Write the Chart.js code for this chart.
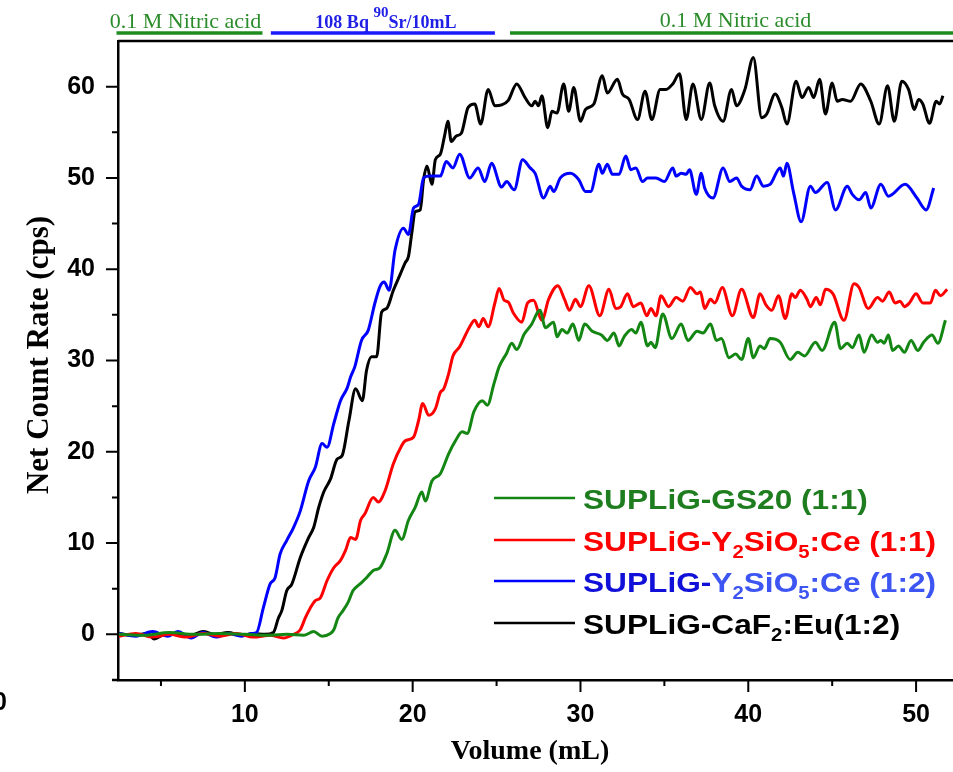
<!DOCTYPE html>
<html>
<head>
<meta charset="utf-8">
<script src="https://cdn.jsdelivr.net/npm/chart.js@4.4.0/dist/chart.umd.min.js"></script>
<style>
  body { margin: 0; background: #fff; }
  canvas { display: block; }
</style>
</head>
<body>
<canvas id="myChart" width="953" height="772"></canvas>
<script>
// ---- data (Volume mL / count rate cps) ----
const gs20X = [2.5, 4, 5.5, 7, 8.5, 10, 11.5, 12.5, 13.5, 14.1, 14.6, 15.1, 15.3, 15.55, 15.85, 16.15, 16.45, 16.85, 17.25, 17.65, 18.05, 18.45, 18.95, 19.35, 19.75, 20.15, 20.55, 20.75, 21.15, 21.65, 22.15, 22.55, 22.95, 23.25, 23.65, 24.15, 24.45, 24.85, 25.15, 25.6, 25.9, 26.2, 26.65, 27.1, 27.45, 27.6, 27.9, 28.4, 28.6, 28.9, 29.2, 29.55, 29.9, 30.25, 30.7, 31.25, 31.6, 32.0, 32.3, 32.6, 33.05, 33.3, 33.6, 34.0, 34.2, 34.45, 34.9, 35.45, 36.0, 36.4, 36.95, 37.3, 37.75, 38.1, 38.4, 38.85, 39.25, 39.6, 40.0, 40.3, 40.7, 40.95, 41.3, 41.9, 42.5, 42.95, 43.35, 44.0, 44.4, 45.15, 45.5, 45.9, 46.2, 46.6, 46.9, 47.35, 47.7, 47.9, 48.1, 48.35, 48.6, 48.95, 49.3, 49.7, 50.1, 50.45, 50.95, 51.3, 51.75];
const gs20Y = [0, -0.1, 0.2, 0, 0.1, 0, -0.1, 0, -0.1, 0.3, -0.2, 0.1, 0.5, 1.8, 2.6, 3.5, 4.8, 5.5, 6.2, 7.0, 7.3, 8.8, 11.4, 10.4, 12.5, 13.9, 15.6, 14.6, 16.8, 17.6, 19.8, 21.2, 22.2, 22.0, 24.4, 25.6, 25.1, 27.5, 29.3, 30.8, 31.9, 31.2, 32.9, 34.0, 35.3, 35.5, 33.6, 34.2, 32.6, 33.4, 33.0, 34.0, 32.2, 34.0, 33.2, 32.8, 32.2, 33.0, 31.6, 32.6, 33.4, 33.0, 34.2, 31.6, 32.0, 31.4, 35.1, 32.4, 34.0, 32.2, 33.2, 33.0, 34.0, 32.2, 32.4, 30.3, 30.7, 30.1, 32.4, 30.3, 31.6, 31.3, 32.4, 32.0, 30.1, 30.9, 30.5, 32.0, 31.1, 34.2, 31.3, 31.9, 31.4, 32.8, 30.9, 32.8, 32.0, 32.2, 31.9, 32.8, 31.1, 31.6, 30.9, 32.2, 31.1, 32.0, 32.8, 31.9, 34.4];

const ysoRedX = [2.5, 3.5, 4.5, 5.5, 6.5, 7.5, 8.5, 9.5, 10.5, 11.5, 12.3, 12.9, 13.3, 13.6, 13.9, 14.2, 14.5, 14.9, 15.3, 15.7, 16.0, 16.3, 16.6, 16.9, 17.15, 17.65, 17.95, 18.35, 18.85, 19.35, 19.55, 20.05, 20.35, 20.6, 20.95, 21.35, 21.65, 21.85, 22.15, 22.4, 22.8, 23.4, 23.7, 23.95, 24.2, 24.5, 24.9, 25.15, 25.45, 25.7, 26.0, 26.5, 26.85, 27.2, 27.7, 28.1, 28.65, 29.05, 29.35, 29.7, 30.0, 30.5, 31.15, 31.7, 32.1, 32.4, 32.8, 33.15, 33.6, 33.95, 34.2, 34.5, 34.8, 35.25, 35.7, 36.1, 36.55, 36.95, 37.15, 37.4, 37.75, 38.0, 38.45, 39.05, 39.6, 40.3, 40.7, 41.05, 41.4, 41.8, 42.2, 42.6, 42.8, 43.1, 43.5, 43.7, 44.05, 44.3, 44.6, 45.05, 45.7, 46.3, 46.6, 47.15, 47.7, 48.0, 48.4, 48.75, 49.05, 49.3, 49.6, 50.0, 50.4, 50.85, 51.15, 51.45, 51.85];
const ysoRedY = [-0.2, 0.1, -0.3, 0, -0.3, 0.1, -0.2, 0.1, -0.3, -0.1, -0.4, 0, 0.5, 1.8, 2.9, 3.7, 4.0, 5.9, 7.3, 8.1, 9.2, 10.6, 10.4, 12.5, 13.2, 15.0, 14.5, 15.7, 18.7, 20.7, 21.2, 21.6, 23.4, 25.3, 24.0, 24.7, 26.5, 26.9, 28.6, 30.5, 31.5, 33.7, 34.4, 33.7, 34.6, 33.7, 36.3, 37.9, 36.6, 36.4, 35.2, 34.2, 36.3, 36.6, 34.4, 36.7, 38.2, 36.7, 35.5, 36.7, 35.9, 38.2, 34.9, 37.8, 35.7, 35.9, 37.3, 35.9, 36.3, 34.9, 35.7, 34.9, 37.1, 35.9, 36.9, 36.5, 38.0, 37.3, 37.5, 35.7, 36.7, 36.3, 38.0, 34.9, 37.8, 34.7, 37.3, 36.1, 35.5, 37.1, 34.6, 37.3, 36.9, 37.7, 36.7, 35.9, 36.9, 36.1, 37.8, 37.3, 34.4, 38.4, 38.0, 35.7, 36.9, 36.5, 37.5, 36.3, 36.5, 35.9, 36.3, 37.3, 36.3, 36.3, 37.7, 37.1, 37.8];

const ysoBlueX = [2.5, 3.5, 4.5, 5.4, 6.0, 6.8, 7.5, 8.3, 9.0, 9.8, 10.4, 10.7, 11.1, 11.5, 11.8, 12.1, 12.5, 12.9, 13.3, 13.8, 14.2, 14.6, 14.9, 15.3, 15.7, 16.1, 16.3, 16.55, 16.95, 17.35, 17.75, 18.05, 18.3, 18.6, 18.95, 19.45, 19.75, 20.05, 20.35, 20.65, 21.05, 21.65, 22.0, 22.4, 22.8, 23.4, 23.9, 24.3, 24.7, 25.3, 25.6, 26.05, 26.55, 27.0, 27.3, 27.8, 28.2, 28.4, 28.8, 29.4, 29.9, 30.3, 30.6, 31.1, 31.3, 31.6, 31.9, 32.3, 32.7, 33.0, 33.3, 33.7, 34.0, 34.5, 35.0, 35.5, 35.7, 36.0, 36.3, 36.5, 36.9, 37.2, 37.4, 37.9, 38.5, 38.9, 39.3, 39.6, 40.1, 40.5, 40.9, 41.3, 41.9, 42.1, 42.3, 42.7, 43.15, 43.7, 44.0, 44.7, 45.2, 45.9, 46.2, 46.6, 47.0, 47.3, 47.9, 48.35, 49.35, 50.05, 50.6, 51.05];
const ysoBlueY = [0.1, -0.2, 0.3, -0.2, 0.3, -0.4, 0.2, -0.3, 0.1, -0.2, 0.1, 0.2, 2.9, 5.5, 6.2, 8.8, 10.3, 11.7, 13.5, 16.8, 18.3, 20.9, 20.5, 23.1, 25.6, 27.0, 28.2, 29.3, 32.2, 33.3, 36.3, 38.1, 38.6, 37.7, 42.1, 44.5, 43.8, 46.7, 47.1, 50.0, 50.2, 50.2, 51.8, 51.1, 52.6, 50.0, 51.1, 49.6, 51.6, 49.0, 49.6, 48.7, 52.0, 51.1, 50.5, 47.8, 49.1, 48.5, 50.0, 50.5, 49.8, 48.5, 48.5, 51.5, 50.5, 51.5, 50.4, 50.4, 52.4, 50.9, 51.1, 49.6, 50.0, 50.0, 49.6, 51.1, 50.2, 50.5, 50.4, 50.9, 48.2, 50.5, 48.9, 47.8, 51.1, 49.6, 50.0, 49.1, 48.7, 50.2, 49.1, 49.3, 51.1, 50.2, 51.6, 48.4, 45.2, 49.1, 48.4, 49.5, 46.5, 49.1, 48.2, 47.6, 48.4, 46.7, 49.3, 48.0, 49.3, 47.8, 46.5, 48.9];

const cafX = [2.5, 3.3, 4.2, 4.6, 5.2, 6.0, 6.8, 7.5, 8.2, 9.0, 9.8, 10.5, 11.2, 11.7, 12.0, 12.2, 12.5, 12.8, 13.3, 13.8, 14.1, 14.4, 14.7, 15.1, 15.5, 15.8, 16.2, 16.6, 17.0, 17.25, 17.55, 17.85, 18.15, 18.45, 18.85, 19.25, 19.55, 19.75, 19.95, 20.15, 20.45, 20.65, 20.85, 21.15, 21.35, 21.65, 21.9, 22.1, 22.3, 22.6, 22.9, 23.3, 23.7, 24.05, 24.5, 24.9, 25.3, 25.7, 26.2, 26.7, 27.1, 27.3, 27.5, 27.7, 28.05, 28.3, 28.6, 29.0, 29.3, 29.6, 30.0, 30.3, 30.8, 31.3, 31.6, 32.2, 32.5, 32.9, 33.4, 33.85, 34.25, 34.75, 35.1, 35.5, 35.9, 36.3, 36.7, 37.2, 37.7, 38.0, 38.5, 39.0, 39.3, 39.8, 40.3, 40.8, 41.1, 41.6, 42.0, 42.3, 42.85, 43.2, 43.6, 43.9, 44.25, 44.6, 45.0, 45.3, 45.6, 46.1, 46.7, 47.3, 47.8, 48.3, 48.7, 49.15, 49.55, 49.9, 50.15, 50.4, 50.8, 51.2, 51.4, 51.6];
const cafY = [0.1, -0.1, 0.1, -0.5, 0, 0.1, -0.1, 0.3, 0, 0.2, -0.1, 0.1, 0, 0.2, 1.8, 2.6, 4.8, 5.5, 8.4, 10.6, 11.7, 13.9, 15.6, 17.0, 19.2, 19.6, 23.4, 26.9, 25.6, 28.9, 30.4, 30.4, 35.3, 35.7, 37.7, 39.4, 40.7, 41.4, 44.0, 46.3, 46.5, 49.8, 51.3, 49.3, 52.0, 52.6, 54.6, 56.2, 54.0, 54.6, 54.9, 57.7, 58.1, 55.9, 59.7, 57.9, 58.0, 58.5, 60.3, 58.8, 57.9, 58.4, 57.9, 59.0, 55.5, 57.3, 57.1, 60.3, 57.3, 59.9, 56.2, 57.5, 58.1, 61.2, 59.3, 60.8, 59.2, 58.6, 56.4, 59.5, 56.4, 59.7, 59.7, 60.3, 61.4, 56.4, 60.3, 56.4, 60.4, 57.9, 56.2, 59.7, 57.9, 59.7, 63.2, 56.6, 57.0, 59.2, 57.7, 55.9, 60.6, 58.8, 59.9, 58.8, 60.8, 57.0, 60.4, 58.4, 58.6, 58.4, 60.3, 58.4, 55.9, 60.1, 56.2, 60.6, 59.7, 57.5, 58.6, 58.1, 56.0, 58.4, 58.1, 59.0];

const xTicks = [10, 20, 30, 40, 50];
const xMinor = [5, 15, 25, 35, 45];
const yTicks = [0, 10, 20, 30, 40, 50, 60];
const yMinor = [5, 15, 25, 35, 45, 55];

// solution bands drawn over the top axis
const bandFrom = [2.35, 11.55, 25.8];
const bandTo = [11.05, 24.9, 53];
const bandColor = ['#1f8c1f', '#1a1aff', '#1f8c1f'];

function pts(xs, ys) {
  return xs.map((x, i) => ({ x: x, y: ys[i] }));
}

const data = {
  datasets: [
    { label: 'SUPLiG-GS20 (1:1)', data: pts(gs20X, gs20Y), borderColor: '#138613' },
    { label: 'SUPLiG-Y2SiO5:Ce (1:1)', data: pts(ysoRedX, ysoRedY), borderColor: '#ff0000' },
    { label: 'SUPLiG-Y2SiO5:Ce (1:2)', data: pts(ysoBlueX, ysoBlueY), borderColor: '#0000ff' },
    { label: 'SUPLiG-CaF2:Eu(1:2)', data: pts(cafX, cafY), borderColor: '#000000' }
  ].map(d => Object.assign(d, {
    borderWidth: 3,
    pointRadius: 0,
    tension: 0.4,
    cubicInterpolationMode: 'monotone',
    fill: false
  }))
};

// legend rows, parts with subscripts
const legendRows = [
  { line: '#138613', parts: [{ t: 'SUPLiG-GS20 (1:1)', c: '#1e7d1e' }] },
  { line: '#ff0000', parts: [{ t: 'SUPLiG-Y', c: '#ff0000' }, { t: '2', c: '#ff0000', sub: 1 }, { t: 'SiO', c: '#ff0000' }, { t: '5', c: '#ff0000', sub: 1 }, { t: ':Ce (1:1)', c: '#ff0000' }] },
  { line: '#0000ff', parts: [{ t: 'SUPLiG-', c: '#1010d8' }, { t: 'Y', c: '#3d55f2' }, { t: '2', c: '#3d55f2', sub: 1 }, { t: 'SiO', c: '#3d55f2' }, { t: '5', c: '#3d55f2', sub: 1 }, { t: ':Ce (1:2)', c: '#3d55f2' }] },
  { line: '#000000', parts: [{ t: 'SUPLiG-CaF', c: '#000' }, { t: '2', c: '#000', sub: 1 }, { t: ':Eu(1:2)', c: '#000' }] }
];

function drawParts(ctx, parts, x, y, size, sx, family) {
  ctx.save();
  ctx.translate(x, y);
  ctx.scale(sx, 1);
  ctx.textAlign = 'left';
  ctx.textBaseline = 'alphabetic';
  let cx = 0;
  parts.forEach(p => {
    const fs = (p.sub || p.sup) ? Math.round(size * 0.66) : size;
    ctx.font = 'bold ' + fs + 'px ' + family;
    ctx.fillStyle = p.c;
    const dy = p.sub ? size * 0.24 : (p.sup ? -size * 0.42 : 0);
    ctx.fillText(p.t, cx, dy);
    cx += ctx.measureText(p.t).width;
  });
  ctx.restore();
}

const decor = {
  id: 'decor',
  afterDraw(chart) {
    const ctx = chart.ctx;
    const xs = chart.scales.x, ys = chart.scales.y;
    const a = chart.chartArea;
    ctx.save();

    // top frame line
    ctx.strokeStyle = '#000';
    ctx.lineWidth = 2.5;
    ctx.beginPath();
    ctx.moveTo(a.left, a.top);
    ctx.lineTo(a.right, a.top);
    ctx.stroke();
    // bottom axis slightly past the y axis
    ctx.beginPath();
    ctx.moveTo(a.left - 6, a.bottom);
    ctx.lineTo(a.left, a.bottom);
    ctx.stroke();

    // outward tick marks
    ctx.lineWidth = 2;
    ctx.beginPath();
    yTicks.forEach(v => { const p = ys.getPixelForValue(v); ctx.moveTo(a.left, p); ctx.lineTo(a.left - 12, p); });
    yMinor.forEach(v => { const p = ys.getPixelForValue(v); ctx.moveTo(a.left, p); ctx.lineTo(a.left - 6, p); });
    xTicks.forEach(v => { const p = xs.getPixelForValue(v); ctx.moveTo(p, a.bottom); ctx.lineTo(p, a.bottom + 12); });
    xMinor.forEach(v => { const p = xs.getPixelForValue(v); ctx.moveTo(p, a.bottom); ctx.lineTo(p, a.bottom + 6); });
    ctx.stroke();

    // solution bands
    ctx.lineWidth = 3.5;
    bandFrom.forEach((f, i) => {
      ctx.strokeStyle = bandColor[i];
      ctx.beginPath();
      ctx.moveTo(xs.getPixelForValue(f), 33);
      ctx.lineTo(xs.getPixelForValue(bandTo[i]), 33);
      ctx.stroke();
    });
    ctx.textAlign = 'center';
    ctx.textBaseline = 'alphabetic';
    ctx.font = '22px "Liberation Serif", "Times New Roman", serif';
    ctx.fillStyle = '#2a8c2a';
    ctx.fillText('0.1 M Nitric acid', (xs.getPixelForValue(bandFrom[0]) + xs.getPixelForValue(bandTo[0])) / 2 - 4, 28);
    ctx.fillText('0.1 M Nitric acid', (xs.getPixelForValue(bandFrom[2]) + 953) / 2 + 4, 27);
    // 108 Bq 90Sr/10mL
    const serif = '"Liberation Serif", "Times New Roman", serif';
    ctx.font = 'bold 18px ' + serif;
    const w1 = ctx.measureText('108 Bq ').width;
    const w3 = ctx.measureText('Sr/10mL').width;
    ctx.font = 'bold 15px ' + serif;
    const w2 = ctx.measureText('90').width;
    const cx = (xs.getPixelForValue(bandFrom[1]) + xs.getPixelForValue(bandTo[1])) / 2 + 3;
    let bx = cx - (w1 + w2 + w3) / 2;
    ctx.textAlign = 'left';
    ctx.fillStyle = '#1f1fe6';
    ctx.font = 'bold 18px ' + serif;
    ctx.fillText('108 Bq ', bx, 28);
    ctx.font = 'bold 15px ' + serif;
    ctx.fillText('90', bx + w1, 17);
    ctx.font = 'bold 18px ' + serif;
    ctx.fillText('Sr/10mL', bx + w1 + w2, 28);

    // legend
    const rowY = [498, 540, 581, 623];
    legendRows.forEach((r, i) => {
      ctx.strokeStyle = r.line;
      ctx.lineWidth = 2.5;
      ctx.beginPath();
      ctx.moveTo(494, rowY[i]);
      ctx.lineTo(575, rowY[i]);
      ctx.stroke();
      drawParts(ctx, r.parts, 583, rowY[i] + 11, 28, 1.13, '"Liberation Sans", Arial, sans-serif');
    });

    // axis titles
    ctx.fillStyle = '#000';
    ctx.textAlign = 'center';
    ctx.textBaseline = 'middle';
    ctx.font = 'bold 28px ' + serif;
    ctx.fillText('Volume (mL)', 530, 752);
    ctx.save();
    ctx.translate(40, 355);
    ctx.rotate(-Math.PI / 2);
    ctx.font = 'bold 31px ' + serif;
    ctx.fillText('Net Count Rate (cps)', 0, 0);
    ctx.restore();

    // stray digit at the cropped left edge
    ctx.textAlign = 'right';
    ctx.font = 'bold 25px "Liberation Sans", Arial, sans-serif';
    ctx.fillText('0', 7, 703);
    ctx.restore();
  }
};

const tickFont = { family: '"Liberation Sans", Arial, sans-serif', size: 25, weight: 'bold' };

const config = {
  type: 'line',
  data: data,
  options: {
    responsive: false,
    animation: false,
    devicePixelRatio: 1,
    layout: { padding: { top: 41, left: 0, right: 0, bottom: 0 } },
    plugins: {
      legend: { display: false },
      tooltip: { enabled: false }
    },
    scales: {
      x: {
        type: 'linear',
        min: 2.44,
        max: 52.2,
        afterFit: s => { s.height = 92; },
        afterBuildTicks: s => { s.ticks = xTicks.map(v => ({ value: v })); },
        grid: { display: false, drawTicks: false },
        border: { display: true, color: '#000', width: 2.5 },
        ticks: { color: '#000', font: tickFont, padding: 20, maxRotation: 0 }
      },
      y: {
        type: 'linear',
        min: -5,
        max: 65,
        afterFit: s => { s.width = 118; },
        afterBuildTicks: s => { s.ticks = yTicks.map(v => ({ value: v })); },
        grid: { display: false, drawTicks: false },
        border: { display: true, color: '#000', width: 2.5 },
        ticks: { color: '#000', font: tickFont, padding: 23 }
      }
    }
  },
  plugins: [decor]
};

const myChart = new Chart(document.getElementById('myChart'), config);
</script>
</body>
</html>
